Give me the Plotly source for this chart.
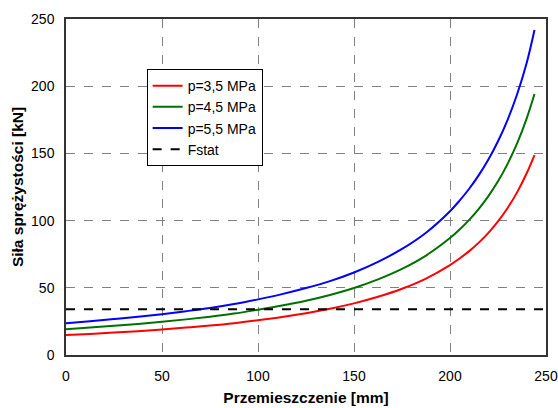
import plotly.graph_objects as go

# Displacement [mm]
x_pts = [0, 12.5, 25, 37.5, 50, 62.5, 75, 87.5, 100, 112.5, 125, 137.5, 150, 162.5,
         175, 187.5, 200, 205, 210, 215, 220, 225, 230, 235, 240, 244]

# Spring force [kN]
f_35 = [14.8, 15.7, 16.7, 17.75, 19.0, 20.4, 21.9, 23.7, 25.9, 28.3, 31.1, 34.4, 38.4, 43.3,
        49.3, 56.9, 66.9, 71.8, 77.3, 83.6, 90.9, 99.4, 109.4, 121.2, 135.4, 148.8]
f_45 = [19.2, 20.4, 21.7, 23.1, 24.7, 26.5, 28.5, 30.8, 33.7, 36.8, 40.4, 44.7, 49.9, 56.3,
        64.1, 74.0, 87.0, 93.3, 100.5, 108.7, 118.2, 129.2, 142.2, 157.6, 176.3, 194.2]
f_55 = [23.7, 25.1, 26.7, 28.4, 30.4, 32.6, 35.0, 37.9, 41.4, 45.3, 49.8, 55.0, 61.4, 69.3,
        78.9, 91.0, 107.0, 114.9, 123.7, 133.8, 145.4, 159.0, 175.0, 194.2, 217.6, 241.8]

fstat_x = [0, 250]
fstat_y = [34, 34]

names = ["p=3,5 MPa", "p=4,5 MPa", "p=5,5 MPa", "Fstat"]
colors = ["#FF0000", "#007000", "#0000FF", "#000000"]

ticks = [0, 50, 100, 150, 200, 250]

fig = go.Figure()
for i, (ys, nm, col) in enumerate(zip([f_35, f_45, f_55], names[:3], colors[:3])):
    fig.add_trace(go.Scatter(x=x_pts, y=ys, mode="lines", name=nm, legendgroup=f"g{i}",
                             line=dict(color=col, width=2, shape="spline", smoothing=1.0)))
fig.add_trace(go.Scatter(x=fstat_x, y=fstat_y, mode="lines", name=names[3], legendgroup="g3",
                         line=dict(color=colors[3], width=2, dash="dash")))

axis_common = dict(
    tickvals=ticks, ticks="outside", ticklen=7, tickcolor="rgba(0,0,0,0)",
    showgrid=True, gridcolor="#808080", griddash="dash",
    gridwidth=1, showline=True, linecolor="#333333", linewidth=1.5, mirror=True,
    zeroline=False, automargin=False, ticklabeloverflow="allow",
    tickfont=dict(family="Liberation Sans, Arial", size=14, color="#000000"),
)

fig.update_layout(
    width=558, height=408,
    margin=dict(l=66, r=12, t=19, b=53),
    paper_bgcolor="white", plot_bgcolor="white",
    font=dict(family="Liberation Sans, Arial", color="#000000"),
    xaxis=dict(range=[0, 250], title=dict(text="<b>Przemieszczenie [mm]</b>",
               font=dict(size=15.5), standoff=10), **axis_common),
    yaxis=dict(range=[0, 250], title=dict(text="<b>Siła sprężystości [kN]</b>",
               font=dict(size=15.5), standoff=4), **axis_common),
    legend=dict(x=0.168, y=0.851, xanchor="left", yanchor="top",
                bgcolor="white", bordercolor="#000000", borderwidth=1,
                font=dict(size=14, family="Liberation Sans, Arial"),
                tracegroupgap=0),
    showlegend=True,
)

# remove the default page margin so the 558x408 figure fills the window exactly
fig.write_html("out.html",
               config={"displayModeBar": False},
               post_script="document.body.style.margin='0';document.body.style.overflow='hidden';")
